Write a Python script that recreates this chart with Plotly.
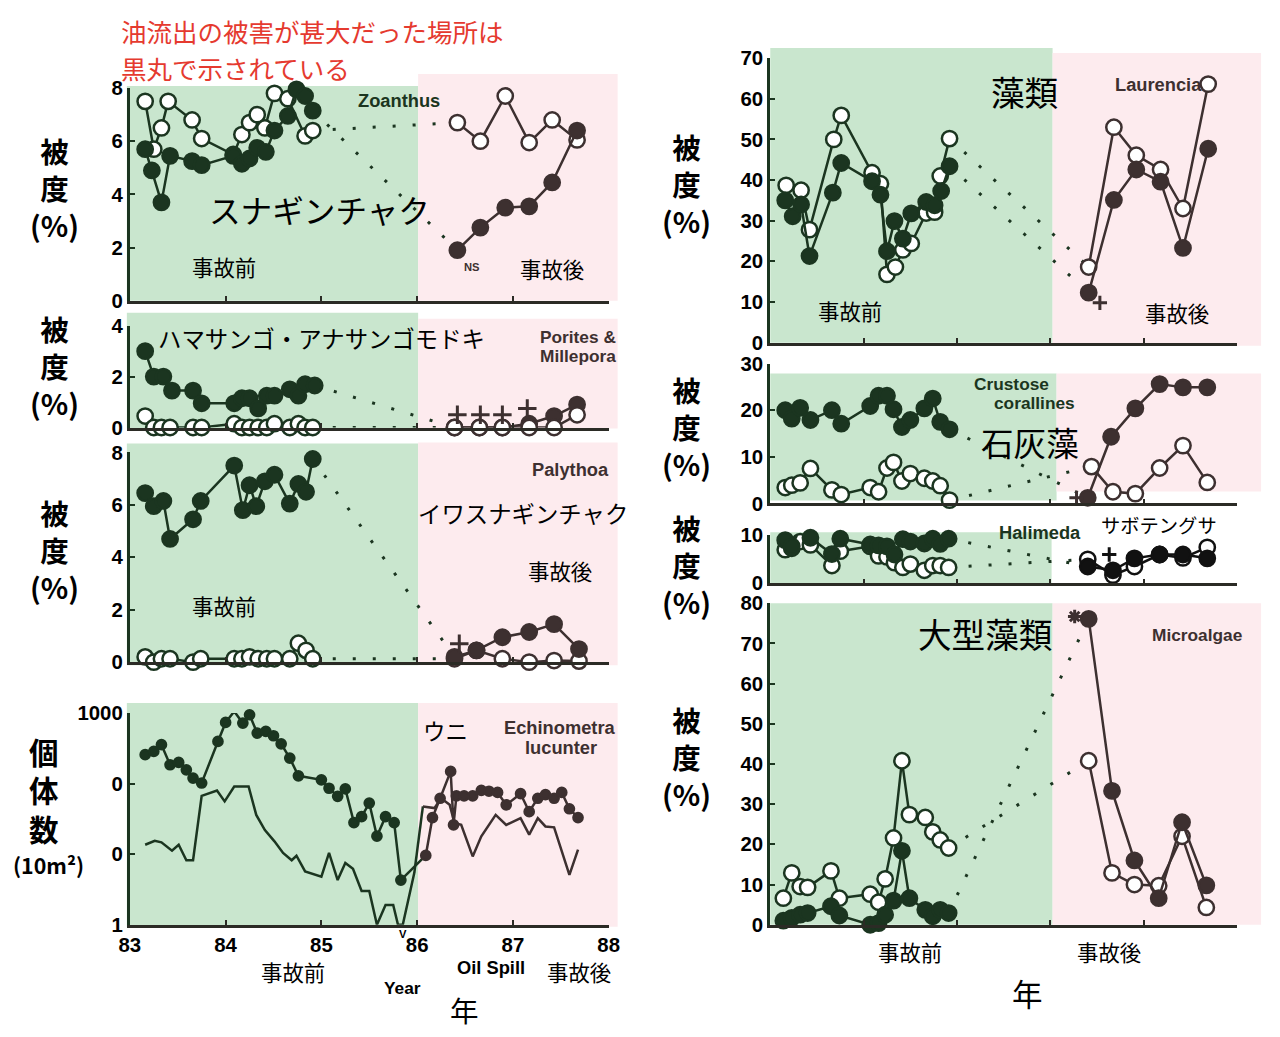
import plotly.graph_objects as go

# figure sized to fit the 1280x1037 window inside the default 8px body margin
FW, FH = 1264, 1021
OFF = 8
# empirical screen calibration (target pixel -> layout pixel)
SX, AX, SY, AY = 0.985, 9.0, 0.98, 10.0
FS = 1 / 0.982  # font / marker size compensation

PRE = "#1b3520"
POST = "#3d3030"
BLACK = "#111111"
GREEN = "#c9e6ce"
PINK = "#fdebee"
RED = "#e53a2f"
JP = "Noto Sans CJK JP"
LAT = "Liberation Sans"

# ---------------- DATA ----------------
# Zoanthus (cover %)
zoa_open_pre_x = [83.16, 83.25, 83.33, 83.40, 83.65, 83.75, 84.08, 84.17, 84.25, 84.33, 84.41, 84.51, 84.65, 84.83, 84.91]
zoa_open_pre_y = [7.5, 5.7, 6.5, 7.5, 6.8, 6.1, 5.5, 6.25, 6.7, 7.0, 6.5, 7.8, 7.6, 6.2, 6.4]
zoa_fill_pre_x = [83.16, 83.23, 83.33, 83.42, 83.65, 83.75, 84.08, 84.17, 84.25, 84.33, 84.42, 84.51, 84.65, 84.74, 84.83, 84.91]
zoa_fill_pre_y = [5.7, 4.9, 3.7, 5.45, 5.25, 5.1, 5.45, 5.15, 5.35, 5.75, 5.6, 6.4, 6.95, 7.95, 7.7, 7.15]
zoa_post_x = [86.42, 86.66, 86.92, 87.17, 87.41, 87.67]
zoa_open_post_y = [6.7, 6.0, 7.7, 5.95, 6.8, 6.05]
zoa_fill_post_y = [1.9, 2.75, 3.5, 3.55, 4.45, 6.4]

# Porites & Millepora
por_fill_pre_x = [83.16, 83.25, 83.35, 83.44, 83.66, 83.75, 84.09, 84.17, 84.25, 84.34, 84.43, 84.51, 84.67, 84.76, 84.83, 84.93]
por_fill_pre_y = [3.0, 2.0, 2.0, 1.45, 1.45, 0.95, 0.95, 1.15, 1.15, 0.75, 1.25, 1.25, 1.5, 1.25, 1.7, 1.65]
por_open_pre_x = [83.16, 83.25, 83.33, 83.42, 83.66, 83.75, 84.09, 84.17, 84.25, 84.34, 84.43, 84.51, 84.67, 84.76, 84.83, 84.91]
por_open_pre_y = [0.45, 0, 0, 0, 0, 0, 0.15, 0, 0, 0, 0, 0.15, 0, 0.15, 0, 0]
por_post_x = [86.39, 86.65, 86.89, 87.17, 87.43, 87.67]
por_fill_post_y = [0, 0, 0, 0.15, 0.45, 0.9]
por_open_post_y = [0, 0, 0, 0, 0, 0.5]
por_plus_x = [86.42, 86.66, 86.89, 87.15]
por_plus_y = [0.5, 0.5, 0.5, 0.75]

# Palythoa
pal_fill_pre_x = [83.16, 83.25, 83.35, 83.42, 83.66, 83.74, 84.09, 84.18, 84.25, 84.32, 84.41, 84.51, 84.67, 84.76, 84.84, 84.91]
pal_fill_pre_y = [6.45, 5.95, 6.15, 4.7, 5.45, 6.15, 7.5, 5.8, 6.75, 5.95, 6.9, 7.15, 6.05, 6.8, 6.5, 7.75]
pal_open_pre_x = [83.16, 83.25, 83.33, 83.42, 83.66, 83.74, 84.09, 84.17, 84.25, 84.34, 84.43, 84.51, 84.67, 84.76, 84.84, 84.91]
pal_open_pre_y = [0.2, 0, 0.13, 0.13, 0, 0.13, 0.13, 0.13, 0.2, 0.13, 0.13, 0.13, 0.13, 0.72, 0.45, 0.13]
pal_post_x = [86.39, 86.62, 86.89, 87.17, 87.43, 87.69]
pal_fill_post_y = [0.2, 0.45, 0.95, 1.15, 1.45, 0.5]
pal_open_post_y = [0.13, 0.45, 0.13, 0, 0.06, 0.04]
pal_plus_x = [86.44]
pal_plus_y = [0.7]

# Echinometra lucunter (individuals / 10 m2, log scale)
ech_dot_pre_x = [83.16, 83.25, 83.33, 83.42, 83.51, 83.59, 83.66, 83.75, 83.92, 84.00, 84.09, 84.18, 84.25, 84.33, 84.42,
                 84.50, 84.58, 84.67, 84.76, 85.00, 85.08, 85.17, 85.25, 85.34, 85.42, 85.50, 85.58, 85.67, 85.76, 85.83]
ech_dot_pre_y = [257, 286, 356, 185, 200, 157, 120, 102, 396, 737, 1055, 721, 946, 520, 549,
                 477, 367, 230, 129, 113, 86, 66, 84, 28, 34, 53, 18, 34, 28, 4.3]
ech_dot_post_x = [86.09, 86.16, 86.24, 86.35, 86.38, 86.41, 86.49, 86.58, 86.67, 86.75, 86.84, 86.93, 87.08, 87.17,
                  87.26, 87.34, 87.43, 87.51, 87.59, 87.68]
ech_dot_post_y = [9.6, 33, 62, 149, 26, 67, 67, 67, 80, 78, 75, 50, 72, 40, 62, 70, 62, 75, 44, 33]
ech_line_pre_x = [83.16, 83.26, 83.33, 83.44, 83.51, 83.59, 83.66, 83.75, 83.91, 83.99, 84.09, 84.24, 84.32, 84.41,
                  84.51, 84.60, 84.69, 84.74, 84.83, 85.00, 85.08, 85.17, 85.25, 85.33, 85.42, 85.50, 85.58, 85.67,
                  85.75, 85.80, 85.85, 85.97]
ech_line_pre_y = [13.6, 15.5, 14.7, 11.2, 13.6, 8.2, 8.2, 67, 80, 56, 91, 91, 36, 22,
                  15.2, 10.4, 8.2, 9.5, 5.7, 4.8, 10.4, 4.3, 7.5, 6.2, 3.0, 3.0, 1, 1.9,
                  1.9, 1, 1, 5.4]
ech_line_post_x = [86.06, 86.18, 86.25, 86.34, 86.39, 86.46, 86.58, 86.67, 86.82, 86.93, 87.08, 87.17, 87.26, 87.34,
                   87.43, 87.59, 87.68]
ech_line_post_y = [47.5, 45, 62, 50, 27.6, 26, 9.3, 17.9, 36, 26, 32.5, 18.9, 32.5, 24.7, 24, 5.1, 11.6]

# Laurencia
lau_open_pre_x = [83.17, 83.33, 83.42, 83.68, 83.76, 84.09, 84.18, 84.25, 84.34, 84.42, 84.51, 84.67, 84.76, 84.82, 84.92]
lau_open_pre_y = [38.7, 37.5, 27.8, 50.0, 55.9, 41.8, 39.1, 16.8, 18.6, 22.8, 24.4, 31.9, 32.1, 41.0, 50.2]
lau_fill_pre_x = [83.16, 83.24, 83.33, 83.42, 83.67, 83.76, 84.09, 84.18, 84.25, 84.33, 84.42, 84.51, 84.67, 84.76, 84.83, 84.92]
lau_fill_pre_y = [35.0, 31.1, 34.0, 21.3, 36.9, 44.2, 39.7, 36.4, 22.5, 29.9, 25.6, 31.8, 34.6, 33.8, 37.3, 43.4]
lau_post_x = [86.41, 86.68, 86.92, 87.18, 87.42, 87.69]
lau_open_post_y = [18.6, 53.0, 46.1, 42.6, 33.0, 63.6]
lau_fill_post_y = [12.3, 35.1, 42.6, 39.6, 23.3, 47.7]
lau_plus_x = [86.53]
lau_plus_y = [9.8]

# Crustose corallines
cru_pre_x = [83.16, 83.23, 83.32, 83.43, 83.66, 83.76, 84.07, 84.16, 84.25, 84.32, 84.41, 84.50, 84.65, 84.74, 84.82, 84.92]
cru_fill_pre_y = [20.0, 18.2, 20.5, 17.9, 20.0, 17.1, 20.9, 23.1, 23.1, 20.2, 16.4, 17.9, 20.4, 22.5, 17.5, 15.9]
cru_open_pre_y = [3.4, 3.9, 4.4, 7.5, 2.9, 1.9, 3.4, 2.5, 7.6, 8.8, 4.8, 6.4, 5.4, 4.8, 3.8, 0.7]
cru_fill_post_x = [86.40, 86.65, 86.91, 87.17, 87.42, 87.68]
cru_fill_post_y = [1.2, 14.3, 20.4, 25.6, 24.9, 24.9]
cru_open_post_x = [86.44, 86.67, 86.91, 87.17, 87.42, 87.68]
cru_open_post_y = [7.9, 2.5, 2.1, 7.6, 12.4, 4.5]
cru_plus_x = [86.28]
cru_plus_y = [1.2]

# Halimeda
hal_pre_x = [83.16, 83.23, 83.32, 83.43, 83.66, 83.75, 84.07, 84.16, 84.25, 84.33, 84.42, 84.50, 84.65, 84.74, 84.82, 84.91]
hal_fill_pre_y = [9.0, 7.7, 11.5, 9.5, 6.1, 9.3, 8.1, 7.9, 7.7, 6.0, 9.2, 8.7, 8.3, 9.3, 8.2, 9.3]
hal_open_pre_y = [7.0, 7.3, 8.7, 8.0, 3.7, 6.7, 7.7, 5.7, 5.5, 4.3, 3.3, 4.0, 2.7, 3.7, 3.7, 3.3]
hal_post_x = [86.40, 86.67, 86.90, 87.17, 87.42, 87.68]
hal_fill_post_y = [3.5, 2.7, 5.2, 6.0, 6.0, 5.2]
hal_open_post_y = [5.0, 1.7, 3.5, 6.0, 5.3, 7.5]
hal_plus_x = [86.63]
hal_plus_y = [6.0]

# Microalgae
mic_pre_x = [83.14, 83.23, 83.32, 83.40, 83.65, 83.74, 84.07, 84.16, 84.23, 84.32, 84.41, 84.49, 84.66, 84.74, 84.82, 84.91]
mic_open_pre_y = [6.6, 12.9, 9.5, 9.3, 13.4, 6.6, 7.6, 5.6, 11.4, 21.6, 40.8, 27.4, 26.7, 23.1, 21.1, 19.1]
mic_fill_pre_y = [1.0, 1.7, 2.5, 2.9, 4.6, 2.3, 0, 0.4, 2.5, 6.0, 18.4, 6.6, 3.7, 2.1, 3.7, 2.9]
mic_post_x = [86.41, 86.66, 86.90, 87.16, 87.41, 87.67]
mic_fill_post_y = [76.1, 33.3, 16.0, 6.6, 25.5, 9.8]
mic_open_post_y = [40.8, 12.9, 10.0, 9.7, 22.0, 4.3]
mic_star_x = [86.26]
mic_star_y = [76.7]

year_ticks = [83, 84, 85, 86, 87, 88]
year_labels = ["83", "84", "85", "86", "87", "88"]

# ---------------- LAYOUT HELPERS ----------------
def X(p):
    return ((p - AX) / SX - OFF) / FW


def Y(p):
    return 1 - ((p - AY) / SY - OFF) / FH


def fs(s):
    return round(s * FS, 1)


# axis id: (x_px0, x_px1, y_px_bottom, y_px_top, yrange, tickvals, ticktext, log)
axes = {
    1: (128, 608, 300, 87, [0, 8], [0, 2, 4, 6, 8], None, False),
    2: (128, 608, 427, 325, [0, 4], [0, 2, 4], None, False),
    3: (128, 608, 662, 452, [0, 8], [0, 2, 4, 6, 8], None, False),
    4: (128, 608, 925, 713, [0, 3], [1, 10, 100, 1000], ["1", "0", "0", "1000"], True),
    5: (770, 1238, 342, 57, [0, 70], [0, 10, 20, 30, 40, 50, 60, 70], None, False),
    6: (770, 1238, 503, 363, [0, 30], [0, 10, 20, 30], None, False),
    7: (770, 1238, 583, 535, [0, 10], [0, 10], None, False),
    8: (770, 1238, 925, 603, [0, 80], [0, 10, 20, 30, 40, 50, 60, 70, 80], None, False),
}

layout = dict(
    width=FW, height=FH, margin=dict(l=0, r=0, t=0, b=0),
    paper_bgcolor="white", plot_bgcolor="rgba(0,0,0,0)", showlegend=False,
)
for i, (x0, x1, yb, yt, yr, tv, tt, lg) in axes.items():
    xs = "xaxis" if i == 1 else f"xaxis{i}"
    ys = "yaxis" if i == 1 else f"yaxis{i}"
    anchor_y = "y" if i == 1 else f"y{i}"
    anchor_x = "x" if i == 1 else f"x{i}"
    layout[xs] = dict(
        domain=[X(x0), X(x1)], range=[83, 88], anchor=anchor_y,
        tickvals=year_ticks, ticktext=year_labels, showticklabels=(i == 4),
        ticks="inside", ticklen=5, tickwidth=2, tickcolor="#2b2b25",
        showline=True, linecolor="#2b2b25", linewidth=2.5,
        showgrid=False, zeroline=False,
        tickfont=dict(family=LAT, size=fs(20), color="black", weight="bold"),
    )
    ya = dict(
        domain=[Y(yb), Y(yt)], anchor=anchor_x, range=yr,
        tickvals=tv, ticks="inside", ticklen=5, tickwidth=2, tickcolor=PRE,
        showline=True, linecolor=PRE, linewidth=3,
        showgrid=False, zeroline=False,
        tickfont=dict(family=LAT, size=fs(20), color="black", weight="bold"),
    )
    if tt is not None:
        ya["ticktext"] = tt
    if lg:
        ya["type"] = "log"
    layout[ys] = ya

fig = go.Figure()
fig.update_layout(**layout)

# background panels
bgs = [
    (125, 85, 417, 300, GREEN), (417, 73, 617, 300, PINK),
    (125, 312, 417, 428, GREEN), (417, 318, 617, 428, PINK),
    (125, 443, 417, 665, GREEN), (417, 442, 617, 665, PINK),
    (125, 703, 417, 927, GREEN), (417, 703, 617, 927, PINK),
    (770, 47, 1053, 342, GREEN), (1053, 52, 1262, 345, PINK),
    (770, 373, 1057, 500, GREEN), (1057, 373, 1262, 491, PINK),
    (770, 532, 1052, 585, GREEN),
    (770, 603, 1053, 925, GREEN), (1053, 603, 1262, 925, PINK),
]
for (a, b, c, d, col) in bgs:
    fig.add_shape(type="rect", xref="paper", yref="paper", x0=X(a), x1=X(c), y0=Y(d), y1=Y(b),
                  fillcolor=col, line=dict(width=0), layer="below")


def ax(i):
    return ("x" if i == 1 else f"x{i}", "y" if i == 1 else f"y{i}")


def series(i, x, y, color, open_, size=15, lw=2.5):
    xa, ya = ax(i)
    fig.add_trace(go.Scatter(
        x=x, y=y, xaxis=xa, yaxis=ya, mode="lines+markers", cliponaxis=False,
        line=dict(color=color, width=lw),
        marker=dict(symbol="circle", size=fs(size), color="white" if open_ else color,
                    line=dict(color=color, width=2.5)),
        hoverinfo="skip"))


def plain(i, x, y, color, lw=2.5):
    xa, ya = ax(i)
    fig.add_trace(go.Scatter(x=x, y=y, xaxis=xa, yaxis=ya, mode="lines", cliponaxis=False,
                             line=dict(color=color, width=lw), hoverinfo="skip"))


def dotted(i, x, y, color):
    xa, ya = ax(i)
    fig.add_trace(go.Scatter(x=x, y=y, xaxis=xa, yaxis=ya, mode="lines", cliponaxis=False,
                             line=dict(color=color, width=3, dash="3px,17px"), hoverinfo="skip"))


def sym(i, x, y, color, symbol="cross-thin", size=13):
    xa, ya = ax(i)
    fig.add_trace(go.Scatter(x=x, y=y, xaxis=xa, yaxis=ya, mode="markers", cliponaxis=False,
                             marker=dict(symbol=symbol, size=fs(size), color=color,
                                         line=dict(color=color, width=3)),
                             hoverinfo="skip"))


# Zoanthus
dotted(1, [zoa_open_pre_x[-1], zoa_post_x[0]], [zoa_open_pre_y[-1], zoa_open_post_y[0]], PRE)
dotted(1, [zoa_fill_pre_x[-1], zoa_post_x[0]], [zoa_fill_pre_y[-1], zoa_fill_post_y[0]], PRE)
series(1, zoa_open_pre_x, zoa_open_pre_y, PRE, True)
series(1, zoa_fill_pre_x, zoa_fill_pre_y, PRE, False)
series(1, zoa_post_x, zoa_open_post_y, POST, True)
series(1, zoa_post_x, zoa_fill_post_y, POST, False)

# Porites
dotted(2, [por_fill_pre_x[-1], por_post_x[0]], [por_fill_pre_y[-1], por_fill_post_y[0]], PRE)
dotted(2, [por_open_pre_x[-1], por_post_x[0]], [por_open_pre_y[-1], por_open_post_y[0]], PRE)
series(2, por_open_pre_x, por_open_pre_y, PRE, True)
series(2, por_fill_pre_x, por_fill_pre_y, PRE, False)
series(2, por_post_x, por_fill_post_y, POST, False)
series(2, por_post_x, por_open_post_y, POST, True)
sym(2, por_plus_x, por_plus_y, POST)

# Palythoa
dotted(3, [pal_fill_pre_x[-1], pal_post_x[0]], [pal_fill_pre_y[-1], pal_fill_post_y[0]], PRE)
dotted(3, [pal_open_pre_x[-1], pal_post_x[0]], [pal_open_pre_y[-1], pal_open_post_y[0]], PRE)
series(3, pal_open_pre_x, pal_open_pre_y, PRE, True)
series(3, pal_fill_pre_x, pal_fill_pre_y, PRE, False)
series(3, pal_post_x, pal_open_post_y, POST, True)
series(3, pal_post_x, pal_fill_post_y, POST, False)
sym(3, pal_plus_x, pal_plus_y, POST)

# Echinometra
plain(4, ech_line_pre_x, ech_line_pre_y, PRE)
plain(4, [ech_line_pre_x[-1], ech_line_post_x[0]], [ech_line_pre_y[-1], ech_line_post_y[0]], PRE)
plain(4, ech_line_post_x, ech_line_post_y, POST)
plain(4, [ech_dot_pre_x[-1], ech_dot_post_x[0]], [ech_dot_pre_y[-1], ech_dot_post_y[0]], PRE)
series(4, ech_dot_pre_x, ech_dot_pre_y, PRE, False, size=9)
series(4, ech_dot_post_x, ech_dot_post_y, POST, False, size=9)

# Laurencia
dotted(5, [lau_open_pre_x[-1], lau_post_x[0]], [lau_open_pre_y[-1], lau_open_post_y[0]], PRE)
dotted(5, [lau_fill_pre_x[-1], lau_post_x[0]], [lau_fill_pre_y[-1], lau_fill_post_y[0]], PRE)
series(5, lau_open_pre_x, lau_open_pre_y, PRE, True)
series(5, lau_fill_pre_x, lau_fill_pre_y, PRE, False)
series(5, lau_post_x, lau_open_post_y, POST, True)
series(5, lau_post_x, lau_fill_post_y, POST, False)
sym(5, lau_plus_x, lau_plus_y, POST, size=10)

# Crustose corallines
dotted(6, [cru_pre_x[-1], cru_fill_post_x[0]], [cru_fill_pre_y[-1], cru_fill_post_y[0]], PRE)
dotted(6, [cru_pre_x[-1], cru_open_post_x[0]], [cru_open_pre_y[-1], cru_open_post_y[0]], PRE)
series(6, cru_pre_x, cru_open_pre_y, PRE, True)
series(6, cru_pre_x, cru_fill_pre_y, PRE, False)
series(6, cru_open_post_x, cru_open_post_y, POST, True)
series(6, cru_fill_post_x, cru_fill_post_y, POST, False)
sym(6, cru_plus_x, cru_plus_y, POST, size=10)

# Halimeda
dotted(7, [hal_pre_x[-1], hal_post_x[0]], [hal_fill_pre_y[-1], hal_fill_post_y[0]], PRE)
dotted(7, [hal_pre_x[-1], hal_post_x[0]], [hal_open_pre_y[-1], hal_open_post_y[0]], PRE)
series(7, hal_pre_x, hal_open_pre_y, PRE, True)
series(7, hal_pre_x, hal_fill_pre_y, PRE, False)
series(7, hal_post_x, hal_open_post_y, BLACK, True)
series(7, hal_post_x, hal_fill_post_y, BLACK, False)
sym(7, hal_plus_x, hal_plus_y, BLACK, size=10)

# Microalgae
dotted(8, [mic_pre_x[-1], mic_post_x[0]], [mic_fill_pre_y[-1], mic_fill_post_y[0]], PRE)
dotted(8, [mic_pre_x[-1], mic_post_x[0]], [mic_open_pre_y[-1], mic_open_post_y[0]], PRE)
series(8, mic_pre_x, mic_open_pre_y, PRE, True)
series(8, mic_pre_x, mic_fill_pre_y, PRE, False)
series(8, mic_post_x, mic_open_post_y, POST, True)
series(8, mic_post_x, mic_fill_post_y, POST, False)
sym(8, mic_star_x, mic_star_y, POST, symbol="asterisk", size=11)

# ---------------- TEXT ----------------
def ann(text, x, y, size, color="black", fam=JP, weight="normal", xanchor="center", align="center",
        yanchor="middle"):
    fig.add_annotation(text=text, x=X(x), y=Y(y), xref="paper", yref="paper",
                       xanchor=xanchor, yanchor=yanchor, showarrow=False, align=align,
                       font=dict(family=fam, size=fs(size), color=color, weight=weight))


ann("油流出の被害が甚大だった場所は", 117, 29, 25, RED, xanchor="left", align="left")
ann("黒丸で示されている", 117, 66, 25, RED, xanchor="left", align="left")

for (cx, cy) in [(52, 187), (52, 365), (52, 549), (686, 183), (686, 426), (686, 564), (686, 757)]:
    ann("被<br>度<br>(%)", cx, cy, 28, weight="bold")
ann("個<br>体<br>数", 42, 790, 29, weight="bold")
ann("(10m²)", 46, 865, 21, weight="bold")

# left column
ann("スナギンチャク", 318, 208, 31)
ann("事故前", 222, 266, 21)
ann("事故後", 551, 268, 21)
ann("Zoanthus", 398, 99, 18, PRE, LAT, "bold")
ann("NS", 471, 266, 11, POST, LAT, "bold")
ann("ハマサンゴ・アナサンゴモドキ", 320, 337, 23)
ann("Porites &", 617, 336, 17, POST, LAT, "bold", "right")
ann("Millepora", 617, 355, 17, POST, LAT, "bold", "right")
ann("Palythoa", 610, 469, 18, POST, LAT, "bold", "right")
ann("イワスナギンチャク", 522, 513, 23)
ann("事故後", 559, 570, 21)
ann("事故前", 222, 605, 21)
ann("ウニ", 444, 730, 22)
ann("Echinometra", 617, 727, 18, POST, LAT, "bold", "right")
ann("lucunter", 598, 747, 18, POST, LAT, "bold", "right")
ann("V", 402, 934, 11, "black", LAT, "bold")
ann("事故前", 292, 972, 21)
ann("Oil Spill", 490, 968, 18, "black", LAT, "bold")
ann("事故後", 578, 972, 21)
ann("Year", 401, 988, 17, "black", LAT, "bold")
ann("年", 463, 1010, 28)

# right column
ann("藻類", 1025, 90, 33)
ann("Laurencia", 1159, 83, 18, POST, LAT, "bold")
ann("事故前", 850, 310, 21)
ann("事故後", 1178, 312, 21)
ann("Crustose", 1012, 383, 17, PRE, LAT, "bold")
ann("corallines", 1035, 402, 17, PRE, LAT, "bold")
ann("石灰藻", 1030, 441, 32)
ann("Halimeda", 1040, 532, 18, PRE, LAT, "bold")
ann("サボテングサ", 1160, 525, 19)
ann("大型藻類", 985, 633, 33)
ann("Microalgae", 1198, 635, 17, POST, LAT, "bold")
ann("事故前", 910, 952, 21)
ann("事故後", 1110, 952, 21)
ann("年", 1028, 993, 30)

fig.write_html("out.html", config={"displayModeBar": False})
